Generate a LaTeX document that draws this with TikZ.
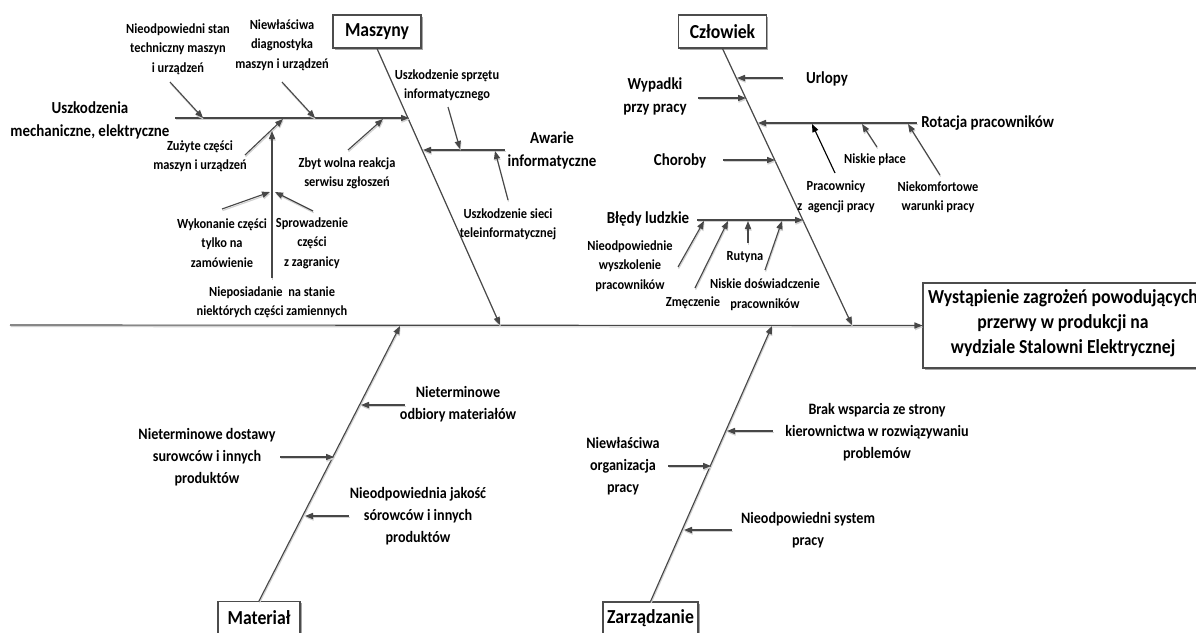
\documentclass[tikz,border=0pt]{standalone}
\usepackage{fontspec}
\setmainfont{Carlito}[FakeStretch=0.89]
\usetikzlibrary{arrows.meta,shadows}
\begin{document}
\begin{tikzpicture}[x=0.75pt,y=-0.75pt,
 sm/.style={font=\fontsize{10.45}{14.6}\selectfont\bfseries, align=center, inner sep=0pt},
 md/.style={font=\fontsize{12.6}{17.3}\selectfont\bfseries, align=center, inner sep=0pt},
 bt/.style={font=\fontsize{11.9}{16.5}\selectfont\bfseries, align=center, inner sep=0pt},
 lg/.style={font=\fontsize{14.9}{18.75}\selectfont\bfseries, align=center, inner sep=0pt},
 catbox/.style={lg, draw=black!70, fill=white, line width=0.8pt, minimum width=66pt, minimum height=24.75pt, drop shadow={shadow xshift=1.2pt, shadow yshift=-1.2pt, fill=black!35, opacity=1}},
 ln/.style={draw=black!72, line width=0.85pt, preaction={draw=black!18, line width=0.85pt, transform canvas={shift={(0.6,1.6)}}}},
 arr/.style={ln, -{Triangle[length=6pt,width=4.6pt]}},
 blackarr/.style={draw=black, line width=0.85pt, -{Triangle[length=6pt,width=4.6pt]}},
]
\useasboundingbox (0,0) rectangle (1196,632);

% category boxes
\node[catbox] (mas) at (377,31.5) {Maszyny};
\node[catbox] (czl) at (722.5,31.5) {Człowiek};
\node[catbox, minimum width=61.5pt] (mat) at (259,618) {Materiał};
\node[catbox, minimum width=71.25pt] (zar) at (650.5,618.5) {Zarządzanie};
\node[draw=black!70, fill=white, line width=0.8pt, minimum width=219pt, minimum height=63.75pt, inner sep=0pt, drop shadow={shadow xshift=1.2pt, shadow yshift=-1.2pt, fill=black!35, opacity=1}] (eff) at (1069,325.5) {};
\node[lg] (efftxt) at (1063,323) {Wystąpienie zagrożeń powodujących\\przerwy w produkcji na\\wydziale Stalowni Elektrycznej};

% spine and bone tips
\coordinate (spineL) at (10,325);
\coordinate (mtip) at (500,325);
\coordinate (ctip) at (852,325);
\coordinate (matip) at (400,326);
\coordinate (ztip) at (772,326);
\draw[arr] (spineL) -- (eff.west);
\draw[arr] (mas.south) -- (mtip);
\draw[arr] (czl.south) -- (ctip);
\draw[arr] (mat.north) -- (matip);
\draw[arr] (zar.north) -- (ztip);

% ---- Maszyny side
\coordinate (u0) at (175,118); \coordinate (u1) at (409,118);
\draw[arr] (u0) -- (u1);
\coordinate (a1s) at (170,82); \coordinate (a1e) at (203,118);
\coordinate (a2s) at (282,82); \coordinate (a2e) at (315,118);
\coordinate (a3s) at (245,155); \coordinate (a3e) at (283,119);
\coordinate (a4s) at (348,150); \coordinate (a4e) at (383,119);
\draw[arr] (a1s) -- (a1e);
\draw[arr] (a2s) -- (a2e);
\draw[arr] (a3s) -- (a3e);
\draw[arr] (a4s) -- (a4e);
\coordinate (v0) at (272,278); \coordinate (v1) at (272,131);
\draw[arr] (v0) -- (v1);
\coordinate (a5s) at (222,209); \coordinate (a5e) at (270,192);
\coordinate (a6s) at (313,211); \coordinate (a6e) at (275,192);
\draw[arr] (a5s) -- (a5e);
\draw[arr] (a6s) -- (a6e);
\coordinate (w0) at (505,150); \coordinate (w1) at (423,150);
\draw[arr] (w0) -- (w1);
\coordinate (a7s) at (448,107); \coordinate (a7e) at (460,149);
\coordinate (a8s) at (508,200); \coordinate (a8e) at (495,151);
\draw[arr] (a7s) -- (a7e);
\draw[arr] (a8s) -- (a8e);

\node[sm] (t1) at (178,49) {Nieodpowiedni stan\\techniczny maszyn\\i urządzeń};
\node[sm] (t2) at (282,45) {Niewłaściwa\\diagnostyka\\maszyn i urządzeń};
\node[md] (t3) at (90,120) {Uszkodzenia\\mechaniczne, elektryczne};
\node[sm] (t4) at (200,156) {Zużyte części\\maszyn i urządzeń};
\node[sm] (t5) at (347,173.5) {Zbyt wolna reakcja\\serwisu zgłoszeń};
\node[sm] (t6) at (222,243) {Wykonanie części\\tylko na\\zamówienie};
\node[sm] (t7) at (312,243) {Sprowadzenie\\części\\z zagranicy};
\node[sm] (t8) at (272,302) {Nieposiadanie\ \ na stanie\\niektórych części zamiennych};
\node[sm] (t9) at (447,85.5) {Uszkodzenie sprzętu\\informatycznego};
\node[md] (t10) at (552,150.5) {Awarie\\informatyczne};
\node[sm] (t11) at (508,224.5) {Uszkodzenie sieci\\teleinformatycznej};

% ---- Człowiek side
\coordinate (c1s) at (783,78); \coordinate (c1e) at (737,78);
\coordinate (c2s) at (698,98); \coordinate (c2e) at (746,98);
\coordinate (r0) at (917,123); \coordinate (r1) at (758,123);
\coordinate (p1s) at (835,173); \coordinate (p1e) at (812,124);
\coordinate (p2s) at (877,147); \coordinate (p2e) at (862,124);
\coordinate (p3s) at (940,175); \coordinate (p3e) at (908,124);
\coordinate (c3s) at (723,160); \coordinate (c3e) at (775,160);
\coordinate (b0) at (697,220); \coordinate (b1) at (803,220);
\coordinate (b1s) at (678,267); \coordinate (b1e) at (704,221);
\coordinate (b2s) at (695,288); \coordinate (b2e) at (728,221);
\coordinate (b3s) at (748,243); \coordinate (b3e) at (748,221);
\coordinate (b4s) at (765,270); \coordinate (b4e) at (782,221);
\draw[arr] (c1s) -- (c1e);
\draw[arr] (c2s) -- (c2e);
\draw[arr] (r0) -- (r1);
\draw[blackarr] (p1s) -- (p1e);
\draw[arr] (p2s) -- (p2e);
\draw[arr] (p3s) -- (p3e);
\draw[arr] (c3s) -- (c3e);
\draw[arr] (b0) -- (b1);
\draw[arr] (b1s) -- (b1e);
\draw[arr] (b2s) -- (b2e);
\draw[arr] (b3s) -- (b3e);
\draw[arr] (b4s) -- (b4e);

\node[md] (h1) at (827,79) {Urlopy};
\node[md] (h2) at (655,96.5) {Wypadki\\przy pracy};
\node[md, anchor=west] (h3) at (921,123) {Rotacja pracowników};
\node[sm] (h4) at (875,160) {Niskie płace};
\node[sm] (h5) at (836,197) {Pracownicy\\z\ \ agencji pracy};
\node[sm] (h6) at (938,197) {Niekomfortowe\\warunki pracy};
\node[md] (h7) at (680,161) {Choroby};
\node[md] (h8) at (648,219) {Błędy ludzkie};
\node[sm] (h9) at (630,266) {Nieodpowiednie\\wyszkolenie\\pracowników};
\node[sm] (h10) at (693,303) {Zmęczenie};
\node[sm] (h11) at (745,257) {Rutyna};
\node[sm] (h12) at (765,294.5) {Niskie doświadczenie\\pracowników};

% ---- Materiał side
\coordinate (m1s) at (405,405); \coordinate (m1e) at (361,405);
\coordinate (m2s) at (280,457); \coordinate (m2e) at (334,457);
\coordinate (m3s) at (349,516); \coordinate (m3e) at (305,516);
\draw[arr] (m1s) -- (m1e);
\draw[arr] (m2s) -- (m2e);
\draw[arr] (m3s) -- (m3e);
\node[bt] (g1) at (458,404) {Nieterminowe\\odbiory materiałów};
\node[bt] (g2) at (207,457) {Nieterminowe dostawy\\surowców i innych\\produktów};
\node[bt] (g3) at (418,516) {Nieodpowiednia jakość\\sórowców i innych\\produktów};

% ---- Zarządzanie side
\coordinate (z1s) at (773,431); \coordinate (z1e) at (727,431);
\coordinate (z2s) at (668,466); \coordinate (z2e) at (711,466);
\coordinate (z3s) at (732,530); \coordinate (z3e) at (684,530);
\draw[arr] (z1s) -- (z1e);
\draw[arr] (z2s) -- (z2e);
\draw[arr] (z3s) -- (z3e);
\node[bt] (k1) at (877,432) {Brak wsparcia ze strony\\kierownictwa w rozwiązywaniu\\problemów};
\node[bt] (k2) at (623,466) {Niewłaściwa\\organizacja\\pracy};
\node[bt] (k3) at (808,530) {Nieodpowiedni system\\pracy};
\end{tikzpicture}
\end{document}
